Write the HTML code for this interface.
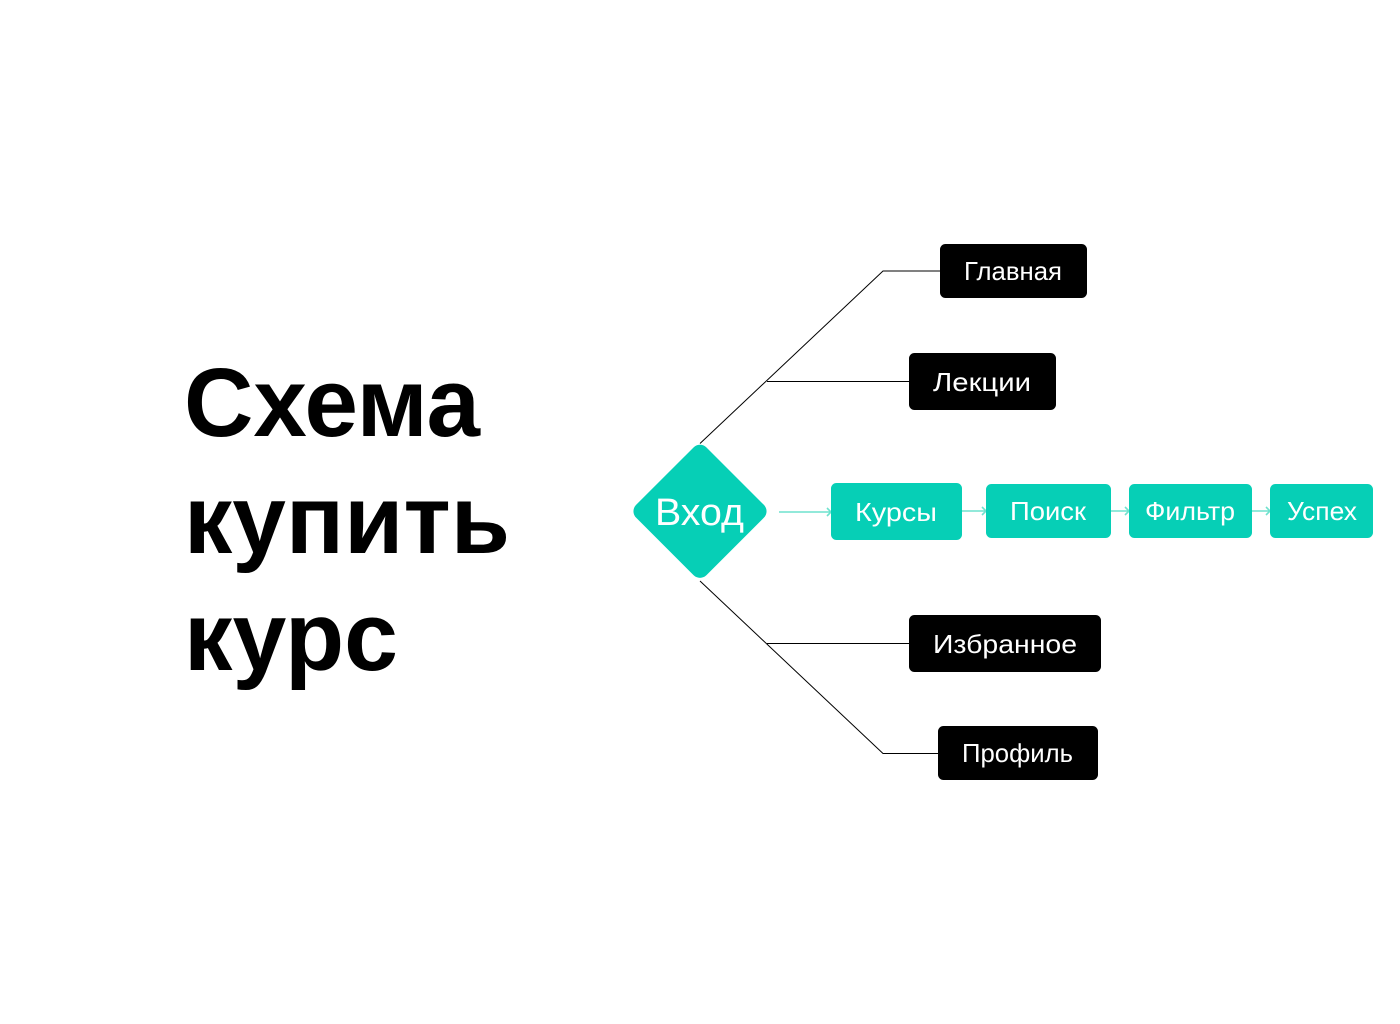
<!DOCTYPE html>
<html lang="ru">
<head>
<meta charset="utf-8">
<title>Схема купить курс</title>
<style>
html,body{margin:0;padding:0;background:#fff}
svg{display:block}
text{font-family:"Liberation Sans",sans-serif}
.h{font-size:97px;font-weight:700;fill:#000}
.l{font-size:26px;fill:#fff}
.s{font-size:26px;fill:#fff}
</style>
</head>
<body>
<svg width="1400" height="1024" viewBox="0 0 1400 1024" xmlns="http://www.w3.org/2000/svg">
<rect width="1400" height="1024" fill="#fff"/>

<text class="h" x="184" y="436" textLength="296" lengthAdjust="spacingAndGlyphs">Схема</text>
<text class="h" x="184" y="553" textLength="326" lengthAdjust="spacingAndGlyphs">купить</text>
<text class="h" x="184" y="670" textLength="214" lengthAdjust="spacingAndGlyphs">курс</text>

<g fill="none" stroke="#000" stroke-width="1">
<path d="M700 443.5 L883 271 H940" />
<path d="M767 381.5 H909" />
<path d="M700 581 L883 753.5 H938" />
<path d="M767 643.5 H909" />
</g>

<g fill="none" stroke="#6fe2ce" stroke-width="1.6">
<path d="M779 512 H831 M827 508 L831 512 L827 516"/>
<path d="M962 511 H986 M982 507 L986 511 L982 515"/>
<path d="M1111 511 H1129 M1125 507 L1129 511 L1125 515"/>
<path d="M1252 511 H1270 M1266 507 L1270 511 L1266 515"/>
</g>

<rect x="650.3" y="461.6" width="99.4" height="99.4" rx="9" fill="#06cfb6" transform="rotate(45 700 511.3)"/>
<text x="655" y="525" font-size="38" fill="#fff" textLength="89" lengthAdjust="spacingAndGlyphs">Вход</text>

<g fill="#06cfb6">
<rect x="831" y="483" width="131" height="57" rx="5.5"/>
<rect x="986" y="484" width="125" height="54" rx="5.5"/>
<rect x="1129" y="484" width="123" height="54" rx="5.5"/>
<rect x="1270" y="484" width="103" height="54" rx="5.5"/>
</g>
<text class="s" x="855" y="521" textLength="82" lengthAdjust="spacingAndGlyphs">Курсы</text>
<text class="s" x="1010" y="520" textLength="76" lengthAdjust="spacingAndGlyphs">Поиск</text>
<text class="s" x="1145" y="520" textLength="90" lengthAdjust="spacingAndGlyphs">Фильтр</text>
<text class="s" x="1287" y="520" textLength="70" lengthAdjust="spacingAndGlyphs">Успех</text>

<g fill="#000">
<rect x="940" y="244" width="147" height="54" rx="5.5"/>
<rect x="909" y="353" width="147" height="57" rx="5.5"/>
<rect x="909" y="615" width="192" height="57" rx="5.5"/>
<rect x="938" y="726" width="160" height="54" rx="5.5"/>
</g>
<text class="l" x="964" y="280" textLength="98" lengthAdjust="spacingAndGlyphs">Главная</text>
<text class="l" x="933" y="391" textLength="98" lengthAdjust="spacingAndGlyphs">Лекции</text>
<text class="l" x="933" y="653" textLength="144" lengthAdjust="spacingAndGlyphs">Избранное</text>
<text class="l" x="962" y="762" textLength="111" lengthAdjust="spacingAndGlyphs">Профиль</text>
</svg>
</body>
</html>
